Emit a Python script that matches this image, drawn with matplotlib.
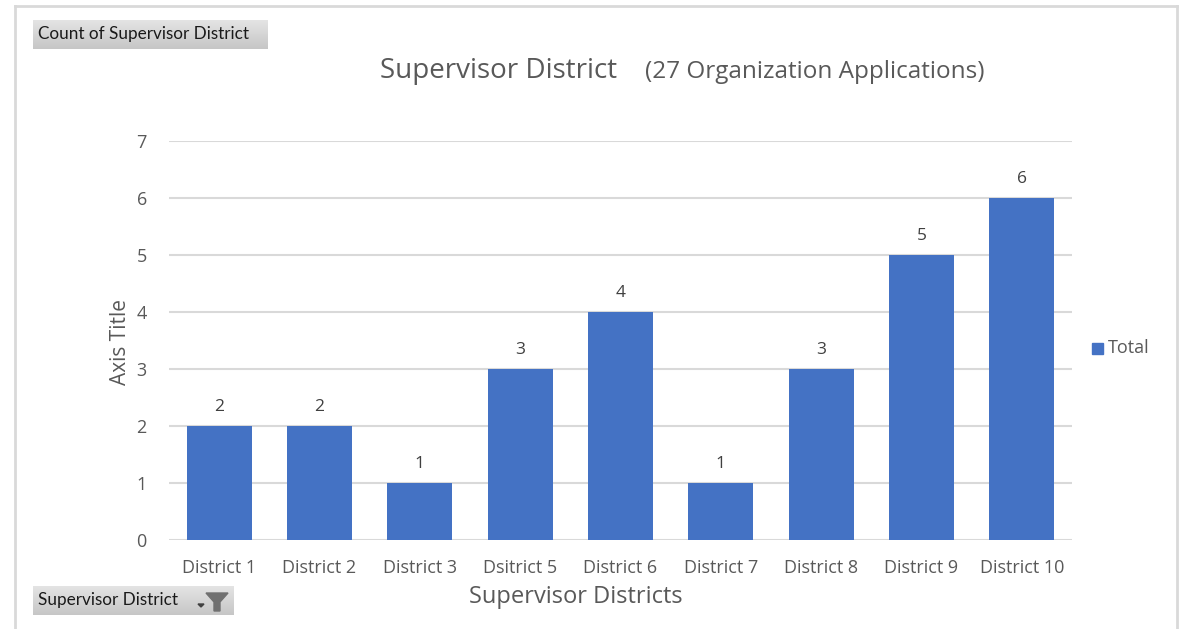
import numpy as np
import matplotlib.pyplot as plt
from matplotlib.colors import LinearSegmentedColormap
from matplotlib.patches import Rectangle, Polygon

districts = ["District 1", "District 2", "District 3", "Dsitrict 5", "District 6",
             "District 7", "District 8", "District 9", "District 10"]
counts = [2, 2, 1, 3, 4, 1, 3, 5, 6]
yticks = list(range(0, 8))

BLUE = "#4472C4"
TXT = "#595959"
GRID = "#D9D9D9"
FONT = "Open Sans"

W, H = 1184, 629
fig = plt.figure(figsize=(W / 100, H / 100), dpi=100)
fig.patch.set_facecolor("white")

# chart frame (light gray, open at bottom)
fig.add_artist(plt.Line2D([15 / W, 1177 / W], [1 - 6 / H, 1 - 6 / H], color=GRID, lw=2))
fig.add_artist(plt.Line2D([15 / W, 15 / W], [0, 1 - 6 / H], color=GRID, lw=2))
fig.add_artist(plt.Line2D([1177 / W, 1177 / W], [0, 1 - 6 / H], color=GRID, lw=2))

ax = fig.add_axes([169 / W, 1 - 540 / H, (1072 - 169) / W, (540 - 141) / H])
x = range(len(districts))
ax.bar(x, counts, width=0.65, color=BLUE, zorder=3, label="Total")
for xi, c in zip(x, counts):
    ax.text(xi, c + 0.2, str(c), ha="center", va="bottom", fontsize=12.5,
            color="#404040", family=FONT)

ax.set_ylim(0, 7)
ax.set_xlim(-0.5, len(districts) - 0.5)
ax.set_yticks(yticks)
ax.yaxis.grid(True, color=GRID, lw=1.5, zorder=0)
ax.set_xticks(list(x))
ax.set_xticklabels(districts)
for s in ax.spines.values():
    s.set_visible(False)
ax.tick_params(axis="both", length=0, labelsize=13, labelcolor=TXT)
ax.tick_params(axis="y", pad=16)
ax.tick_params(axis="x", pad=14)
for lab in ax.get_xticklabels() + ax.get_yticklabels():
    lab.set_family(FONT)

fig.text(121 / W, 1 - 342 / H, "Axis Title", fontsize=15, color=TXT, family=FONT,
         rotation=90, ha="center", va="center")
fig.text(576 / W, 1 - 597 / H, "Supervisor Districts", fontsize=17, color=TXT,
         family=FONT, ha="center", va="center")

# title in two parts
fig.text(380 / W, 1 - 71 / H, "Supervisor District", fontsize=20, color=TXT,
         family=FONT, va="center", ha="left")
fig.text(645 / W, 1 - 72 / H, "(27 Organization Applications)", fontsize=17.5,
         color=TXT, family=FONT, va="center", ha="left")

# legend
fig.add_artist(Rectangle((1092 / W, 1 - 354 / H), 11 / W, 11 / H, color=BLUE,
                         transform=fig.transFigure))
fig.text(1108 / W, 1 - 348 / H, "Total", fontsize=13, color=TXT, family=FONT, va="center")

# pivot field buttons with a soft vertical gradient
grad = np.linspace(0, 1, 64).reshape(-1, 1)
btn_cmap = LinearSegmentedColormap.from_list("btn", ["#E4E4E4", "#C6C6C6"])


def button(x0, y0, x1, y1, label):
    bax = fig.add_axes([x0 / W, 1 - y1 / H, (x1 - x0) / W, (y1 - y0) / H])
    bax.imshow(grad, aspect="auto", cmap=btn_cmap, extent=(0, 1, 0, 1), origin="upper")
    bax.set_axis_off()
    fig.text((x0 + 5) / W, 1 - (y0 + y1) / 2 / H, label, fontsize=12.3,
             color="#1a1a1a", family="Lato", va="center")


button(33, 20, 268, 49, "Count of Supervisor District")
button(33, 586, 234, 615, "Supervisor District")
# funnel icon with small dropdown arrow
fig.add_artist(Polygon([(206 / W, 1 - 593 / H), (228 / W, 1 - 593 / H), (220 / W, 1 - 602 / H),
                        (220 / W, 1 - 611 / H), (214 / W, 1 - 611 / H), (214 / W, 1 - 602 / H)],
                       closed=True, color="#707070", transform=fig.transFigure, zorder=5))
fig.add_artist(Polygon([(198 / W, 1 - 604 / H), (204 / W, 1 - 604 / H), (201 / W, 1 - 607 / H)],
                       closed=True, color="#404040", transform=fig.transFigure, zorder=5))

fig.savefig("out.png", dpi=100)
